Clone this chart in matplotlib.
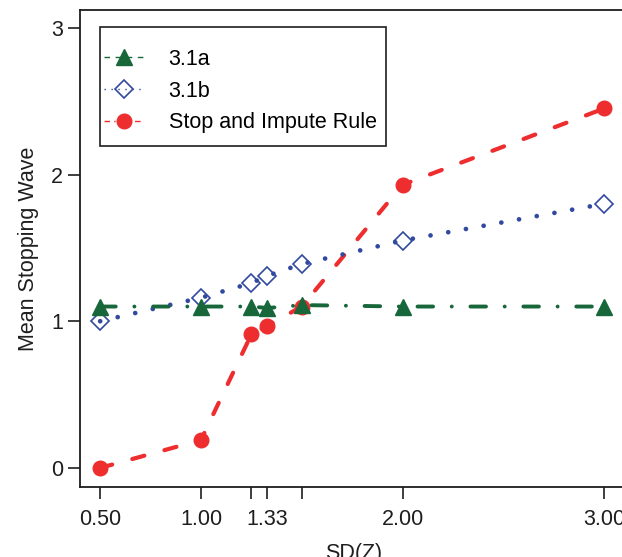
import matplotlib.pyplot as plt
from matplotlib.lines import Line2D
from matplotlib.patches import Rectangle

plt.rcParams['font.family'] = ['Liberation Sans', 'DejaVu Sans']

# data
sd_z = [0.50, 1.00, 1.25, 1.33, 1.50, 2.00, 3.00]
rule_31a = [1.10, 1.10, 1.10, 1.09, 1.11, 1.10, 1.10]
rule_31b = [1.00, 1.16, 1.26, 1.31, 1.39, 1.55, 1.80]
stop_impute = [0.00, 0.19, 0.91, 0.97, 1.10, 1.93, 2.45]

xtick_pos = [0.50, 1.00, 1.25, 1.33, 1.50, 2.00, 3.00]
xtick_lab = ['0.50', '1.00', '', '1.33', '', '2.00', '3.00']
ytick_pos = [0, 1, 2, 3]

green = '#17673a'
blue = '#3249a0'
red = '#ee2d2f'
ink = '#1e1e1e'
fs = 15.5

fig = plt.figure(figsize=(6.22, 5.57), dpi=100)
ax = fig.add_axes([0.1286, 0.1257, 0.88, 0.856])

ax.plot(sd_z, stop_impute, color=red, lw=3, linestyle=(0, (3.0, 5.0)),
        dash_capstyle='round', marker='o', markersize=10.5,
        markeredgecolor=red, zorder=3)
ax.plot(sd_z, rule_31b, color=blue, lw=3.4, linestyle=(0, (0.01, 3.8)),
        dash_capstyle='round', marker='D', markersize=9.5,
        markerfacecolor='none', markeredgecolor=blue, markeredgewidth=1.2,
        zorder=4)
ax.plot(sd_z, rule_31a, color=green, lw=2.8, linestyle=(0, (4.0, 4.8, 0.01, 4.8)),
        dash_capstyle='round', marker='^', markersize=11,
        markeredgecolor=green, zorder=5)

ax.set_xlim(0.40, 3.115)
ax.set_ylim(-0.13, 3.12)

ax.set_xticks(xtick_pos)
ax.set_xticklabels(xtick_lab)
ax.set_yticks(ytick_pos)
ax.tick_params(axis='both', direction='out', length=8.5, width=1.2,
               labelsize=fs, color=ink, labelcolor=ink)
ax.tick_params(axis='x', pad=7)
ax.tick_params(axis='y', pad=3.5)

for s in ax.spines.values():
    s.set_linewidth(1.3)
    s.set_color(ink)

ax.set_xlabel('SD(Z)', fontsize=fs, color=ink, labelpad=10)
ax.set_ylabel('Mean Stopping Wave', fontsize=fs, color=ink, labelpad=9)

# legend with thin R-style keys, frame drawn by hand
handles = [
    Line2D([], [], color=green, lw=1, linestyle=(0, (4, 4)), marker='^',
           markersize=11, markeredgecolor=green),
    Line2D([], [], color=blue, lw=1, linestyle=(0, (1, 4)), marker='D',
           markersize=9, markerfacecolor='none', markeredgecolor=blue,
           markeredgewidth=1.2),
    Line2D([], [], color=red, lw=1, linestyle=(0, (4, 3, 1, 3)), marker='o',
           markersize=10.5, markeredgecolor=red),
]
labels = ['3.1a', '3.1b', 'Stop and Impute Rule']
ax.legend(handles, labels, loc='upper left', bbox_to_anchor=(0.044, 0.919),
          fontsize=fs, frameon=False, handlelength=1.85, borderpad=0,
          labelspacing=0.5, handletextpad=1.15, borderaxespad=0)
ax.add_patch(Rectangle((0.0366, 0.715), 0.5224, 0.249, transform=ax.transAxes,
                       fill=False, lw=1.2, edgecolor=ink, zorder=6))

fig.savefig('out.png', dpi=100)
